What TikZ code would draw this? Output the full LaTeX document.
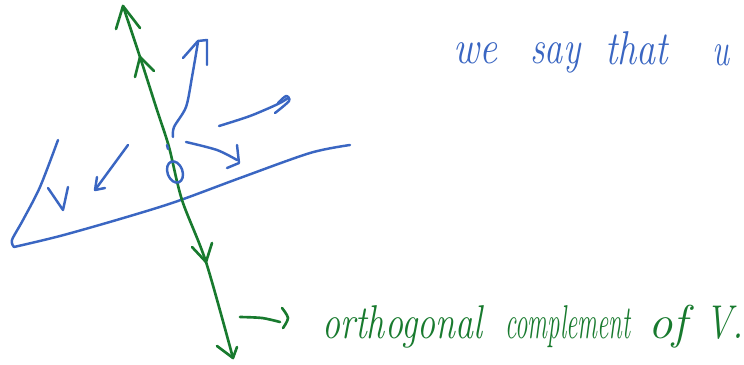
\documentclass[tikz,border=0pt]{standalone}
\usepackage{graphicx}
\definecolor{inkblue}{RGB}{58,102,194}
\definecolor{inkgreen}{RGB}{24,122,46}
\newlength{\pxunit}
\setlength{\pxunit}{0.02cm}
\newcommand{\hw}[2]{\resizebox{#1\pxunit}{\height}{\itshape\fontsize{27}{27}\selectfont #2}}
\begin{document}
\begin{tikzpicture}[x=0.02cm,y=-0.02cm,
  bluepen/.style={draw=inkblue,line width=1.4pt,line cap=round,line join=round},
  greenpen/.style={draw=inkgreen,line width=1.5pt,line cap=round,line join=round},
  word/.style={inner sep=0pt,anchor=base west}]
\useasboundingbox (0,0) rectangle (744,365);
% plane
\draw[bluepen] plot[smooth,tension=0.5] coordinates {(58,140) (40,187) (23,220) (12,240) (14,247)};
\draw[bluepen] plot[smooth,tension=0.5] coordinates {(14,247) (60,236) (120,219) (175,202) (240,178) (310,153) (350,145)};
% small v mark
\draw[bluepen] (48,188) -- (63,210) -- (68,187);
% green orthogonal line
\draw[greenpen] plot[smooth] coordinates {(123,6) (140,57) (157,110) (169,147) (182,200) (206,262) (233,358)};
\draw[greenpen] (116,29) -- (123,6) -- (140,28);
\draw[greenpen] (135,77) -- (140,57) -- (154,71);
\draw[greenpen] (192,247) -- (206,262) -- (212,243);
\draw[greenpen] (217,346) -- (233,358) -- (237,347);
% origin
\draw[bluepen,rotate around={20:(175,172)}] (175,172) ellipse [x radius=7.5, y radius=11];
\draw[bluepen] (167,145) -- (168,149);
% blue vectors
\draw[bluepen] (128,145) -- (95,190);
\draw[bluepen] (97,177) -- (95,190) -- (105,188);
\draw[bluepen] plot[smooth] coordinates {(173,137) (174,127) (186,107) (192,77) (198,42)};
\draw[bluepen] (183,58) -- (198,41) -- (207,40) -- (207,65);
\draw[bluepen] plot[smooth] coordinates {(219,126) (250,116) (278,104) (288,98)};
\draw[bluepen] plot[smooth] coordinates {(278,103) (286,96) (289,101) (275,113)};
\draw[bluepen] plot[smooth] coordinates {(186,142) (217,150) (237,160)};
\draw[bluepen] (237,145) -- (239,163) -- (227,168);
% green pointer arrow
\draw[greenpen] plot[smooth] coordinates {(240,317) (262,318) (280,322)};
\draw[greenpen] plot[smooth] coordinates {(282,308) (288,318) (283,328)};
% texts
\node[word,text=inkblue] (w1) at (453,64) {\hw{44}{we}};
\node[word,text=inkblue] (w2) at (530,64) {\hw{50}{say}};
\node[word,text=inkblue] (w3) at (605,64) {\hw{63}{that}};
\node[word,text=inkblue] (w4) at (712,66) {\hw{17}{u}};
\node[word,text=inkgreen] (g1) at (322,338) {\hw{160}{orthogonal}};
\node[word,text=inkgreen] (g2) at (505,338) {\hw{125}{complement}};
\node[word,text=inkgreen] (g3) at (648,338) {\hw{39}{of}};
\node[word,text=inkgreen] (g4) at (705,338) {\hw{38}{V.}};
\end{tikzpicture}
\end{document}
